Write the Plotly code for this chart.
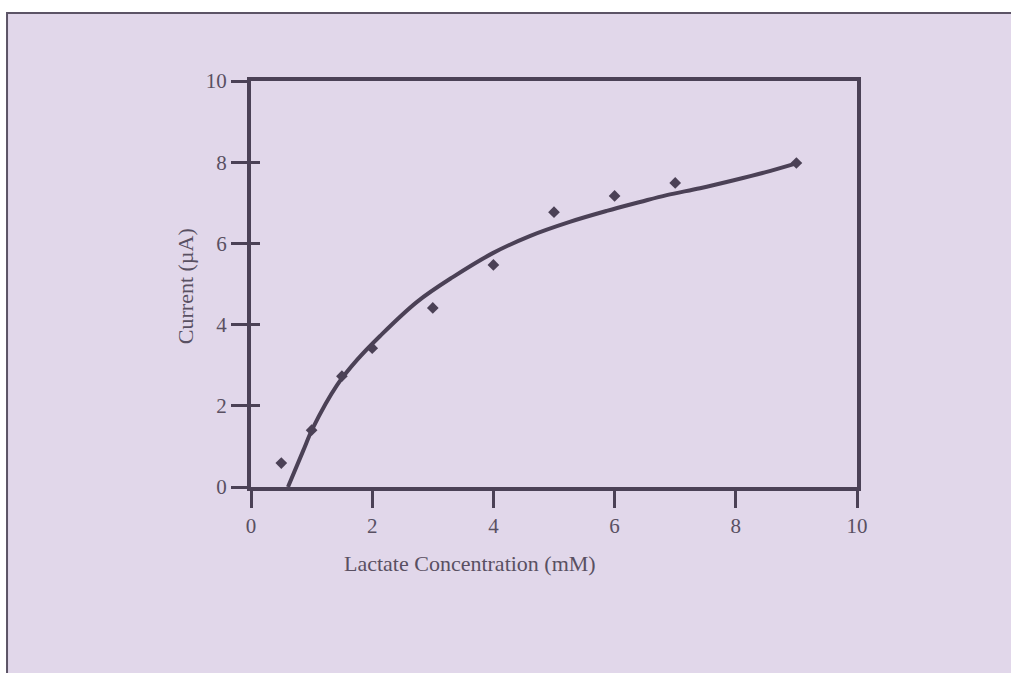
import plotly.graph_objects as go

# Measured lactate response
conc_mM = [0.5, 1.0, 1.5, 2.0, 3.0, 4.0, 5.0, 6.0, 7.0, 9.0]
current_uA = [0.59, 1.40, 2.73, 3.42, 4.41, 5.47, 6.77, 7.17, 7.49, 7.98]

# Fitted calibration curve
fit_x = [0.61, 0.86, 1.02, 1.42, 1.75, 2.13, 2.74, 3.33, 3.99, 4.60,
         5.26, 5.87, 6.42, 6.86, 7.41, 7.95, 8.48, 8.97]
fit_y = [0.0, 0.89, 1.45, 2.51, 3.13, 3.72, 4.56, 5.17, 5.76, 6.18,
         6.53, 6.80, 7.02, 7.19, 7.36, 7.55, 7.75, 7.96]

x_ticks = [0, 2, 4, 6, 8, 10]
y_ticks = [0, 2, 4, 6, 8, 10]

INK = "#4b4156"
TEXT = "#595062"
LAVENDER = "#e1d7ea"
FONT = "Liberation Serif"

fig = go.Figure()

fig.add_trace(go.Scatter(
    x=fit_x, y=fit_y, mode="lines",
    line=dict(color=INK, width=4, shape="spline", smoothing=1.0),
    hoverinfo="skip", showlegend=False,
))
fig.add_trace(go.Scatter(
    x=conc_mM, y=current_uA, mode="markers",
    marker=dict(symbol="diamond", size=9, color=INK),
    showlegend=False,
))

# page panel behind the chart
fig.add_shape(type="rect", xref="paper", yref="paper",
              x0=-0.4026, x1=1.30, y0=-0.55, y1=1.1675,
              fillcolor=LAVENDER, line=dict(color="#5c5466", width=2),
              layer="below")

fig.add_annotation(text="Lactate Concentration (mM)", xref="paper", yref="paper",
                   x=0.3614, y=-0.224, showarrow=False,
                   font=dict(family=FONT, size=22, color=TEXT))
fig.add_annotation(text="Current (\u00b5A)", xref="paper", yref="paper",
                   x=-0.1326, y=0.495, showarrow=False, textangle=-90,
                   font=dict(family=FONT, size=22, color=TEXT))

fig.update_layout(
    width=1011, height=673,
    margin=dict(l=251, r=154, t=81, b=186),
    paper_bgcolor="white",
    plot_bgcolor=LAVENDER,
    font=dict(family=FONT, size=21, color=TEXT),
    xaxis=dict(range=[0, 10], tickvals=x_ticks, ticks="outside", ticklen=17,
               tickwidth=3, tickcolor=INK, showline=True, linewidth=4,
               linecolor=INK, mirror=True, showgrid=False, zeroline=False,
               tickfont=dict(family=FONT, size=21, color=TEXT)),
    yaxis=dict(range=[0, 10], tickvals=y_ticks, ticks="outside", ticklen=16,
               tickwidth=3, tickcolor=INK, showline=True, linewidth=4,
               linecolor=INK, mirror=True, showgrid=False, zeroline=False,
               tickfont=dict(family=FONT, size=21, color=TEXT)),
    yaxis2=dict(range=[0, 10], tickvals=y_ticks, overlaying="y", anchor="x",
                side="left", ticks="inside", ticklen=9, tickwidth=3,
                tickcolor=INK, showticklabels=False, showline=False,
                showgrid=False, zeroline=False),
)

# invisible trace to activate the inner tick axis
fig.add_trace(go.Scatter(x=[None], y=[None], yaxis="y2", showlegend=False))

fig.write_html("out.html")
